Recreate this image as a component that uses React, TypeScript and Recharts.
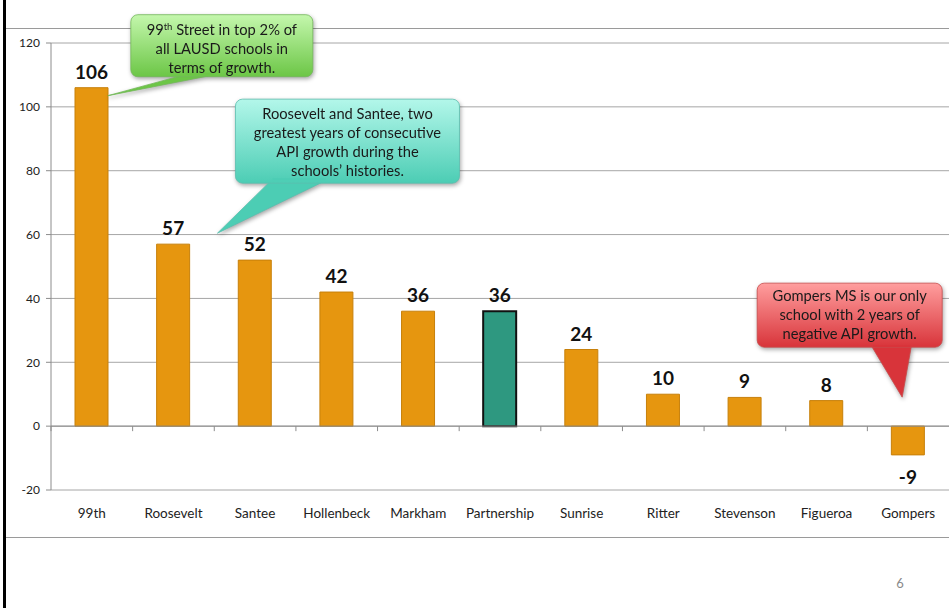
import React from "react";
import {
  BarChart,
  Bar,
  Cell,
  XAxis,
  YAxis,
  CartesianGrid,
  LabelList,
  ReferenceLine,
  ReferenceDot,
} from "recharts";

const schools = [
  "99th",
  "Roosevelt",
  "Santee",
  "Hollenbeck",
  "Markham",
  "Partnership",
  "Sunrise",
  "Ritter",
  "Stevenson",
  "Figueroa",
  "Gompers",
];
const growth = [106, 57, 52, 42, 36, 36, 24, 10, 9, 8, -9];
const yTicks = [-20, 0, 20, 40, 60, 80, 100, 120];
const highlighted = "Partnership";

const greenLines = ["99th Street in top 2% of", "all LAUSD schools in", "terms of growth."];
const cyanLines = [
  "Roosevelt and Santee, two",
  "greatest years of consecutive",
  "API growth during the",
  "schools’ histories.",
];
const redLines = ["Gompers MS is our only", "school with 2 years of", "negative API growth."];

const data = schools.map((school, i) => ({ school, growth: growth[i] }));

const FONT = "Lato, 'Open Sans', sans-serif";

// zero line with Excel-style tick marks between categories
function ZeroAxis(props: any) {
  const { x1, y1, x2 } = props;
  const n = schools.length;
  const step = (x2 - x1) / n;
  return (
    <g>
      <line x1={x1} y1={y1} x2={x2} y2={y1} stroke="#8c8c8c" strokeWidth={1} />
      {Array.from({ length: n }).map((_, i) => (
        <line
          key={i}
          x1={x1 + i * step}
          x2={x1 + i * step}
          y1={y1}
          y2={y1 + 5}
          stroke="#8c8c8c"
        />
      ))}
    </g>
  );
}

function ValueLabel(props: any) {
  const { x, y, width, height, value } = props;
  const top = Math.min(y, y + height);
  const bottom = Math.max(y, y + height);
  const ty = value >= 0 ? top - 9 : bottom + 29;
  return (
    <text
      x={x + width / 2}
      y={ty}
      textAnchor="middle"
      fontFamily={FONT}
      fontWeight={700}
      fontSize={19}
      fill="#111"
    >
      {value}
    </text>
  );
}

type CalloutStyle = {
  id: string;
  top: string;
  bottom: string;
  border: string;
  box: [number, number, number, number];
  base: [number, number, number, number];
  tip: [number, number];
  lines: string[];
  firstLine: number;
};

function makeCallout(s: CalloutStyle) {
  return (props: any) => {
    const { cx, cy } = props;
    const [bx, by, bw, bh] = s.box;
    const [p1x, p1y, p2x, p2y] = s.base;
    const [tx, ty] = s.tip;
    return (
      <g style={{ filter: "drop-shadow(1px 2px 2px rgba(0,0,0,0.35))" }}>
        <defs>
          <linearGradient id={s.id} x1="0" y1="0" x2="0" y2="1">
            <stop offset="0%" stopColor={s.top} />
            <stop offset="100%" stopColor={s.bottom} />
          </linearGradient>
        </defs>
        <path
          d={`M${cx + p1x},${cy + p1y} L${cx + tx},${cy + ty} L${cx + p2x},${cy + p2y} Z`}
          fill={s.bottom}
          stroke={s.border}
          strokeWidth={0.8}
        />
        <rect
          x={cx + bx}
          y={cy + by}
          width={bw}
          height={bh}
          rx={7}
          fill={`url(#${s.id})`}
          stroke={s.border}
          strokeWidth={0.8}
        />
        <path
          d={`M${cx + p1x + 1},${cy + p1y - 1} L${cx + p2x - 1},${cy + p2y - 1}`}
          stroke={s.bottom}
          strokeWidth={2}
        />
        <text
          fontFamily={FONT}
          fontSize={14.7}
          fill="#1a1a1a"
          textAnchor="middle"
        >
          {s.lines.map((line, i) => {
            const x = cx + bx + bw / 2;
            const y = cy + by + s.firstLine + i * 19;
            if (line.startsWith("99th")) {
              return (
                <tspan key={i} x={x} y={y}>
                  99
                  <tspan fontSize={9.5} dy={-5}>
                    th
                  </tspan>
                  <tspan dy={5}>{line.slice(4)}</tspan>
                </tspan>
              );
            }
            return (
              <tspan key={i} x={x} y={y}>
                {line}
              </tspan>
            );
          })}
        </text>
      </g>
    );
  };
}

const GreenCallout = makeCallout({
  id: "gGreen",
  top: "#c4f7ad",
  bottom: "#6cc646",
  border: "#74b85a",
  box: [39, -73, 182, 62],
  base: [93, -13, 123, -13],
  tip: [16, 8],
  lines: greenLines,
  firstLine: 20,
});

const CyanCallout = makeCallout({
  id: "gCyan",
  top: "#b3f7ea",
  bottom: "#4ccdb4",
  border: "#5abfae",
  box: [62, -145, 224, 84],
  base: [98, -64, 153, -64],
  tip: [44, -11],
  lines: cyanLines,
  firstLine: 20,
});

const RedCallout = makeCallout({
  id: "gRed",
  top: "#ff9e9e",
  bottom: "#d8343a",
  border: "#c84a4a",
  box: [-151, -143, 185, 64],
  base: [-36, -79, 3, -79],
  tip: [-6, -29],
  lines: redLines,
  firstLine: 18,
});

export default function App() {
  return (
    <div
      style={{
        position: "absolute",
        left: 0,
        top: 0,
        width: 949,
        height: 608,
        background: "#fff",
        overflow: "hidden",
      }}
    >
      {/* slide frame */}
      <svg
        width={949}
        height={608}
        style={{ position: "absolute", left: 0, top: 0 }}
      >
        <rect x={3} y={0} width={3} height={608} fill="#000" />
        <line x1={6} y1={28.5} x2={949} y2={28.5} stroke="#9a9a9a" />
        <line x1={6} y1={537.5} x2={949} y2={537.5} stroke="#9a9a9a" />
        <text
          x={900}
          y={588}
          textAnchor="middle"
          fontFamily={FONT}
          fontSize={13}
          fill="#8a8a8a"
        >
          6
        </text>
      </svg>

      <div style={{ position: "absolute", left: 0, top: 0 }}>
        <BarChart
          width={949}
          height={608}
          data={data}
          margin={{ top: 43, right: 0, left: 0, bottom: 88 }}
          barSize={33}
        >
          <CartesianGrid vertical={false} stroke="#a6a6a6" />
          <XAxis
            dataKey="school"
            height={30}
            tickLine={false}
            axisLine={false}
            tickSize={6}
            tickMargin={12}
            interval={0}
            tick={{ fontSize: 13.5, fill: "#222", fontFamily: FONT }}
          />
          <YAxis
            width={51}
            domain={[-20, 120]}
            ticks={yTicks}
            interval={0}
            tickSize={5}
            tickMargin={6}
            axisLine={{ stroke: "#8c8c8c" }}
            tickLine={{ stroke: "#8c8c8c" }}
            tick={{ fontSize: 12, fill: "#222", fontFamily: FONT }}
          />
          <ReferenceLine y={0} shape={ZeroAxis} />
          <Bar dataKey="growth" isAnimationActive={false}>
            {data.map((d) => (
              <Cell
                key={d.school}
                fill={d.school === highlighted ? "#2e9880" : "#e6960f"}
                stroke={d.school === highlighted ? "#111" : "#c7800b"}
                strokeWidth={d.school === highlighted ? 2 : 1}
              />
            ))}
            <LabelList dataKey="growth" content={ValueLabel} />
          </Bar>
          <ReferenceDot
            x="99th"
            y={growth[0]}
            r={0}
            ifOverflow="visible"
            shape={GreenCallout}
          />
          <ReferenceDot
            x="Roosevelt"
            y={growth[1]}
            r={0}
            ifOverflow="visible"
            shape={CyanCallout}
          />
          <ReferenceDot
            x="Gompers"
            y={0}
            r={0}
            ifOverflow="visible"
            shape={RedCallout}
          />
        </BarChart>
      </div>
    </div>
  );
}
